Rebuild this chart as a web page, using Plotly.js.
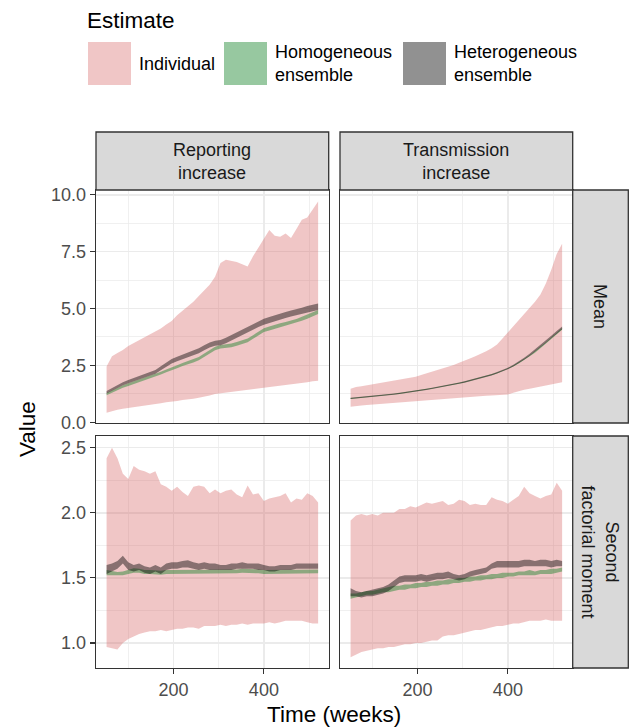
<!DOCTYPE html>
<html>
<head>
<meta charset="utf-8">
<script src="https://cdn.plot.ly/plotly-3.0.1.min.js"></script>
<style>html,body{margin:0;padding:0;background:#fff;}#chart{width:629px;height:728px;}</style>
</head>
<body>
<div id="chart"></div>
<script>
// ---------------- DATA ----------------
const weeks = [52,64,76,88,100,112,124,136,148,160,172,184,196,208,220,232,244,256,268,280,292,304,316,328,340,352,364,376,388,400,412,424,436,448,460,472,484,496,508,520];

const columns = ["Reporting<br>increase", "Transmission<br>increase"];
const rows = ["Mean", "Second<br>factorial moment"];
const seriesNames = ["Individual", "Homogeneous<br>ensemble", "Heterogeneous<br>ensemble"];

// Reporting increase / Mean
const repMeanIndLo = [0.42,0.50,0.55,0.60,0.63,0.67,0.70,0.74,0.78,0.80,0.84,0.88,0.90,0.94,0.98,1.00,1.04,1.08,1.12,1.18,1.24,1.27,1.30,1.33,1.35,1.38,1.40,1.44,1.47,1.50,1.52,1.55,1.60,1.62,1.65,1.70,1.72,1.76,1.80,1.83];
const repMeanIndHi = [2.45,2.90,3.05,3.18,3.35,3.48,3.60,3.72,3.85,3.97,4.12,4.30,4.45,4.70,4.90,5.10,5.30,5.55,5.80,6.05,6.40,7.00,7.15,7.10,7.05,6.95,6.85,7.30,7.70,8.10,8.45,8.20,8.15,8.30,8.10,8.50,8.90,9.00,9.35,9.70];
const repMeanHomLo = [1.19,1.31,1.43,1.52,1.60,1.68,1.76,1.84,1.92,2.00,2.10,2.20,2.28,2.38,2.48,2.55,2.63,2.73,2.88,3.03,3.17,3.24,3.26,3.30,3.37,3.44,3.52,3.67,3.84,3.97,4.04,4.11,4.17,4.23,4.29,4.36,4.46,4.55,4.65,4.76];
const repMeanHomHi = [1.29,1.41,1.53,1.63,1.72,1.80,1.88,1.96,2.04,2.12,2.22,2.32,2.40,2.51,2.61,2.69,2.77,2.87,3.02,3.17,3.32,3.40,3.42,3.46,3.53,3.60,3.68,3.83,4.00,4.13,4.21,4.29,4.35,4.41,4.47,4.54,4.64,4.73,4.83,4.94];
const repMeanHetLo = [1.27,1.40,1.52,1.63,1.72,1.80,1.87,1.95,2.04,2.13,2.29,2.45,2.58,2.68,2.77,2.85,2.95,3.04,3.17,3.29,3.36,3.39,3.48,3.60,3.73,3.85,3.96,4.07,4.19,4.29,4.37,4.45,4.52,4.59,4.65,4.71,4.76,4.83,4.89,4.94];
const repMeanHetHi = [1.38,1.51,1.64,1.76,1.86,1.95,2.02,2.10,2.20,2.30,2.46,2.64,2.78,2.88,2.97,3.06,3.16,3.26,3.39,3.51,3.58,3.62,3.72,3.84,3.97,4.09,4.20,4.33,4.45,4.55,4.63,4.71,4.78,4.85,4.91,4.99,5.04,5.11,5.17,5.22];

// Transmission increase / Mean
const traMeanIndLo = [0.68,0.72,0.74,0.76,0.78,0.80,0.82,0.84,0.86,0.88,0.90,0.91,0.92,0.94,0.96,0.98,1.00,1.02,1.05,1.08,1.10,1.12,1.14,1.15,1.16,1.17,1.18,1.19,1.20,1.22,1.30,1.38,1.43,1.48,1.53,1.58,1.62,1.65,1.70,1.76];
const traMeanIndHi = [1.48,1.55,1.58,1.62,1.65,1.70,1.74,1.78,1.82,1.86,1.90,1.95,2.00,2.08,2.15,2.22,2.30,2.38,2.45,2.52,2.62,2.70,2.80,2.90,3.00,3.12,3.25,3.42,3.68,3.95,4.22,4.48,4.72,5.00,5.30,5.62,6.10,6.70,7.40,7.85];
const traMeanHomLo = [1.03,1.05,1.07,1.09,1.11,1.13,1.16,1.19,1.22,1.25,1.28,1.32,1.35,1.39,1.43,1.47,1.51,1.55,1.60,1.65,1.70,1.75,1.81,1.87,1.93,2.00,2.07,2.15,2.24,2.34,2.45,2.58,2.73,2.89,3.06,3.25,3.45,3.66,3.87,4.07];
const traMeanHomHi = [1.07,1.09,1.11,1.13,1.15,1.17,1.20,1.23,1.26,1.29,1.32,1.36,1.39,1.43,1.47,1.51,1.55,1.59,1.64,1.69,1.74,1.79,1.85,1.91,1.97,2.04,2.11,2.19,2.28,2.38,2.50,2.63,2.79,2.95,3.13,3.32,3.52,3.73,3.94,4.14];
const traMeanHetLo = [1.02,1.04,1.06,1.08,1.10,1.12,1.15,1.18,1.21,1.24,1.27,1.31,1.34,1.38,1.42,1.46,1.50,1.54,1.59,1.64,1.69,1.74,1.80,1.86,1.92,1.99,2.06,2.14,2.23,2.33,2.45,2.59,2.75,2.92,3.10,3.29,3.49,3.69,3.90,4.09];
const traMeanHetHi = [1.08,1.10,1.12,1.14,1.16,1.18,1.21,1.24,1.27,1.30,1.33,1.37,1.40,1.44,1.48,1.52,1.56,1.60,1.65,1.70,1.75,1.80,1.86,1.92,1.98,2.05,2.12,2.21,2.30,2.40,2.53,2.67,2.84,3.01,3.20,3.39,3.59,3.80,4.01,4.21];

// Reporting increase / Second factorial moment
const repSfmIndLo = [0.97,0.96,0.95,1.00,1.03,1.05,1.07,1.08,1.09,1.09,1.10,1.09,1.10,1.11,1.11,1.12,1.12,1.11,1.13,1.13,1.13,1.14,1.13,1.14,1.14,1.15,1.14,1.15,1.15,1.15,1.16,1.15,1.16,1.17,1.17,1.17,1.17,1.16,1.15,1.15];
const repSfmIndHi = [2.42,2.50,2.42,2.30,2.26,2.36,2.33,2.32,2.30,2.32,2.22,2.20,2.17,2.20,2.16,2.13,2.20,2.21,2.20,2.15,2.18,2.15,2.17,2.18,2.14,2.12,2.21,2.14,2.15,2.09,2.11,2.12,2.13,2.15,2.08,2.11,2.10,2.15,2.13,2.08];
const repSfmHomLo = [1.52,1.52,1.515,1.52,1.53,1.54,1.54,1.53,1.53,1.525,1.525,1.53,1.53,1.53,1.535,1.535,1.53,1.53,1.535,1.53,1.535,1.535,1.53,1.535,1.535,1.54,1.54,1.535,1.535,1.53,1.53,1.53,1.535,1.53,1.535,1.535,1.53,1.535,1.535,1.535];
const repSfmHomHi = [1.56,1.55,1.545,1.55,1.56,1.575,1.57,1.56,1.56,1.555,1.555,1.56,1.56,1.56,1.565,1.565,1.56,1.56,1.565,1.56,1.565,1.565,1.56,1.565,1.565,1.57,1.57,1.565,1.565,1.56,1.56,1.56,1.565,1.56,1.565,1.565,1.56,1.565,1.565,1.565];
const repSfmHetLo = [1.53,1.55,1.57,1.61,1.56,1.55,1.56,1.54,1.53,1.55,1.53,1.56,1.57,1.57,1.58,1.58,1.57,1.56,1.57,1.56,1.56,1.56,1.56,1.56,1.57,1.57,1.57,1.57,1.56,1.56,1.55,1.55,1.56,1.56,1.56,1.57,1.57,1.57,1.57,1.57];
const repSfmHetHi = [1.60,1.61,1.63,1.67,1.62,1.60,1.61,1.59,1.58,1.60,1.58,1.61,1.62,1.62,1.63,1.635,1.62,1.61,1.62,1.61,1.61,1.60,1.60,1.61,1.61,1.62,1.61,1.61,1.61,1.60,1.59,1.59,1.60,1.60,1.60,1.61,1.61,1.61,1.61,1.61];

// Transmission increase / Second factorial moment
const traSfmIndLo = [0.89,0.91,0.93,0.94,0.95,0.96,0.96,0.97,0.97,0.98,0.99,0.99,1.00,1.00,1.01,1.02,1.02,1.05,1.06,1.06,1.07,1.08,1.09,1.10,1.10,1.11,1.12,1.13,1.13,1.14,1.15,1.15,1.16,1.17,1.17,1.17,1.18,1.17,1.17,1.17];
const traSfmIndHi = [1.94,1.98,1.99,1.98,1.99,1.98,2.00,2.00,2.00,2.03,2.03,2.05,2.04,2.06,2.08,2.07,2.08,2.09,2.06,2.07,2.10,2.09,2.06,2.07,2.06,2.06,2.12,2.10,2.09,2.07,2.10,2.13,2.20,2.15,2.13,2.11,2.13,2.14,2.23,2.17];
const traSfmHomLo = [1.34,1.35,1.36,1.37,1.37,1.38,1.39,1.39,1.40,1.41,1.41,1.42,1.42,1.43,1.43,1.44,1.44,1.45,1.45,1.46,1.46,1.47,1.47,1.48,1.48,1.49,1.49,1.50,1.50,1.51,1.51,1.52,1.52,1.52,1.52,1.53,1.53,1.53,1.54,1.55];
const traSfmHomHi = [1.38,1.38,1.39,1.40,1.40,1.41,1.42,1.43,1.44,1.44,1.45,1.45,1.46,1.46,1.47,1.47,1.48,1.48,1.49,1.49,1.50,1.50,1.51,1.51,1.52,1.52,1.53,1.53,1.54,1.54,1.54,1.55,1.55,1.56,1.55,1.56,1.56,1.57,1.57,1.58];
const traSfmHetLo = [1.36,1.36,1.35,1.36,1.36,1.37,1.38,1.40,1.43,1.46,1.47,1.47,1.47,1.48,1.47,1.48,1.49,1.49,1.50,1.49,1.48,1.49,1.51,1.52,1.53,1.54,1.57,1.58,1.58,1.58,1.58,1.58,1.59,1.59,1.59,1.59,1.59,1.58,1.59,1.59];
const traSfmHetHi = [1.42,1.40,1.39,1.40,1.41,1.42,1.43,1.45,1.48,1.51,1.52,1.52,1.52,1.53,1.52,1.53,1.54,1.54,1.55,1.53,1.52,1.53,1.55,1.56,1.57,1.58,1.61,1.63,1.63,1.63,1.63,1.63,1.64,1.64,1.63,1.64,1.64,1.63,1.64,1.63];

const xTickVals = [200, 400];
const meanTickVals = [0.0, 2.5, 5.0, 7.5, 10.0];
const sfmTickVals = [1.0, 1.5, 2.0, 2.5];

// ---------------- STYLE ----------------
const fills = ["rgba(212,92,92,0.35)", "rgba(15,127,34,0.43)", "rgba(0,0,0,0.43)"];
const FONT = "Liberation Sans, Arial, Helvetica, sans-serif";
const SMALL = 18, BIG = 22.5;
const W = 629, H = 728;
const px = v => v / W;
const py = v => 1 - v / H;

const panelX = [[96, 328.7], [340, 572.7]];
const panelY = [[190, 423], [436, 668]];

const panels = [
  {col:0,row:0,series:[[repMeanIndLo,repMeanIndHi],[repMeanHomLo,repMeanHomHi],[repMeanHetLo,repMeanHetHi]]},
  {col:1,row:0,series:[[traMeanIndLo,traMeanIndHi],[traMeanHomLo,traMeanHomHi],[traMeanHetLo,traMeanHetHi]]},
  {col:0,row:1,series:[[repSfmIndLo,repSfmIndHi],[repSfmHomLo,repSfmHomHi],[repSfmHetLo,repSfmHetHi]]},
  {col:1,row:1,series:[[traSfmIndLo,traSfmIndHi],[traSfmHomLo,traSfmHomHi],[traSfmHetLo,traSfmHetHi]]}
];

const traces = [];
const layout = {
  width: W, height: H,
  margin: {l:0, r:0, t:0, b:0},
  paper_bgcolor: "#ffffff",
  plot_bgcolor: "#ffffff",
  showlegend: false,
  font: {family: FONT, color: "#4D4D4D"},
  shapes: [],
  annotations: []
};

panels.forEach((p, i) => {
  const n = i + 1;
  const xa = n === 1 ? "x" : "x" + n;
  const ya = n === 1 ? "y" : "y" + n;
  p.series.forEach((s, k) => {
    traces.push({x: weeks, y: s[0], xaxis: xa, yaxis: ya, type: "scatter", mode: "lines",
      line: {width: 0, color: fills[k]}, hoverinfo: "skip"});
    traces.push({x: weeks, y: s[1], xaxis: xa, yaxis: ya, type: "scatter", mode: "lines",
      line: {width: 0, color: fills[k]}, fill: "tonexty", fillcolor: fills[k], hoverinfo: "skip"});
  });
  const xName = n === 1 ? "xaxis" : "xaxis" + n;
  const yName = n === 1 ? "yaxis" : "yaxis" + n;
  const bottom = p.row === 1, left = p.col === 0;
  layout[xName] = {
    domain: [px(panelX[p.col][0]), px(panelX[p.col][1])],
    anchor: ya, range: [28.6, 543.4],
    tickmode: "array", tickvals: xTickVals, ticktext: xTickVals.map(String),
    showticklabels: bottom, ticks: bottom ? "outside" : "", ticklen: 5, tickwidth: 1.1, tickcolor: "#333333",
    tickfont: {family: FONT, size: SMALL, color: "#4D4D4D"},
    showgrid: true, gridcolor: "#EBEBEB", gridwidth: 1.5,
    minor: {tickmode: "array", tickvals: [100, 300, 500], showgrid: true, gridcolor: "#EBEBEB", gridwidth: 0.75, ticks: ""},
    showline: true, mirror: true, linecolor: "#333333", linewidth: 1.3, zeroline: false
  };
  const isMean = p.row === 0;
  const tv = isMean ? meanTickVals : sfmTickVals;
  layout[yName] = {
    domain: [py(panelY[p.row][1]), py(panelY[p.row][0])],
    anchor: xa, range: isMean ? [-0.03, 10.21] : [0.808, 2.59],
    tickmode: "array", tickvals: tv, ticktext: tv.map(v => v.toFixed(1)),
    showticklabels: left, ticks: left ? "outside" : "", ticklen: 5, tickwidth: 1.1, tickcolor: "#333333",
    tickfont: {family: FONT, size: SMALL, color: "#4D4D4D"},
    showgrid: true, gridcolor: "#EBEBEB", gridwidth: 1.5,
    minor: {tickmode: "array", tickvals: isMean ? [1.25, 3.75, 6.25, 8.75] : [1.25, 1.75, 2.25], showgrid: true, gridcolor: "#EBEBEB", gridwidth: 0.75, ticks: ""},
    showline: true, mirror: true, linecolor: "#333333", linewidth: 1.3, zeroline: false
  };
});

// strips (top)
columns.forEach((c, j) => {
  layout.shapes.push({type: "rect", xref: "paper", yref: "paper",
    x0: px(panelX[j][0]), x1: px(panelX[j][1]), y0: py(190), y1: py(132),
    fillcolor: "#D9D9D9", line: {color: "#333333", width: 1.3}, layer: "above"});
  layout.annotations.push({xref: "paper", yref: "paper", x: px((panelX[j][0] + panelX[j][1]) / 2), y: py(161),
    text: c, showarrow: false, xanchor: "center", yanchor: "middle",
    font: {family: FONT, size: SMALL, color: "#1A1A1A"}});
});
// strips (right)
rows.forEach((r, i) => {
  layout.shapes.push({type: "rect", xref: "paper", yref: "paper",
    x0: px(572.7), x1: px(628.3), y0: py(panelY[i][1]), y1: py(panelY[i][0]),
    fillcolor: "#D9D9D9", line: {color: "#333333", width: 1.3}, layer: "above"});
  layout.annotations.push({xref: "paper", yref: "paper", x: px(600.5), y: py((panelY[i][0] + panelY[i][1]) / 2),
    text: r, showarrow: false, textangle: 90, xanchor: "center", yanchor: "middle",
    font: {family: FONT, size: SMALL, color: "#1A1A1A"}});
});

// axis titles
layout.annotations.push({xref: "paper", yref: "paper", x: px(334), y: py(714), text: "Time (weeks)",
  showarrow: false, xanchor: "center", yanchor: "middle", font: {family: FONT, size: BIG, color: "#000000"}});
layout.annotations.push({xref: "paper", yref: "paper", x: px(27), y: py(429), text: "Value", textangle: -90,
  showarrow: false, xanchor: "center", yanchor: "middle", font: {family: FONT, size: BIG, color: "#000000"}});

// legend (manual)
layout.annotations.push({xref: "paper", yref: "paper", x: px(85), y: py(20), text: "Estimate",
  showarrow: false, xanchor: "left", yanchor: "middle", font: {family: FONT, size: BIG, color: "#000000"}});
const keyX = [88, 224, 403];
const labX = [137, 273, 452];
seriesNames.forEach((s, k) => {
  layout.shapes.push({type: "rect", xref: "paper", yref: "paper",
    x0: px(keyX[k]), x1: px(keyX[k] + 43), y0: py(85), y1: py(42),
    fillcolor: fills[k], line: {width: 0}});
  layout.annotations.push({xref: "paper", yref: "paper", x: px(labX[k]), y: py(63.5), text: s,
    showarrow: false, xanchor: "left", yanchor: "middle", align: "left",
    font: {family: FONT, size: SMALL, color: "#000000"}});
});

Plotly.newPlot("chart", traces, layout, {staticPlot: true, displayModeBar: false});
</script>
</body>
</html>
